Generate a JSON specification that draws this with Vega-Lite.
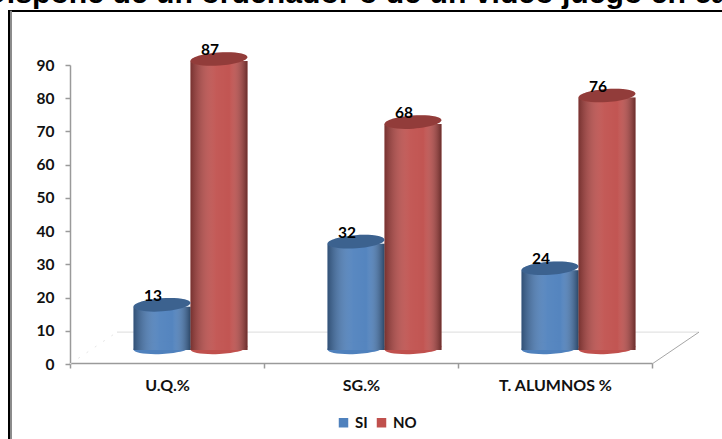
{
  "$schema": "https://vega.github.io/schema/vega-lite/v6.json",
  "width": 716,
  "height": 431,
  "autosize": "none",
  "padding": {"left": 9, "top": 11, "right": 0, "bottom": 0},
  "background": "#ffffff",
  "title": {
    "text": "Dispone de un ordenador o de un video juego en casa",
    "anchor": "start",
    "frame": "group",
    "dx": -24,
    "offset": 0.5,
    "font": "Liberation Sans",
    "fontSize": 30.2,
    "fontWeight": "bold",
    "color": "#000000"
  },
  "config": {
    "view": {"stroke": "#000000", "strokeWidth": 2},
    "font": "Lato"
  },
  "datasets": {
    "encuesta": [
      {"grupo": "U.Q.%", "serie": "SI", "valor": 13},
      {"grupo": "U.Q.%", "serie": "NO", "valor": 87},
      {"grupo": "SG.%", "serie": "SI", "valor": 32},
      {"grupo": "SG.%", "serie": "NO", "valor": 68},
      {"grupo": "T. ALUMNOS %", "serie": "SI", "valor": 24},
      {"grupo": "T. ALUMNOS %", "serie": "NO", "valor": 76}
    ],
    "suelo": [
      {"borde": "fondo", "x0": 47, "x1": 629, "y0": 9.6, "y1": 9.6},
      {"borde": "derecho", "x0": 582, "x1": 629, "y0": 0, "y1": 9.6},
      {"borde": "izquierdo", "x0": 0, "x1": 47, "y0": 0, "y1": 9.6},
      {"borde": "marco", "x0": -59, "x1": -59, "y0": -26, "y1": 106.3}
    ]
  },
  "resolve": {"scale": {"x": "independent"}, "axis": {"x": "independent"}},
  "layer": [
    {
      "description": "Suelo en perspectiva y franja gris del marco",
      "data": {"name": "suelo"},
      "encoding": {
        "x": {"field": "x0", "type": "quantitative", "axis": null, "scale": {"domain": [0, 582], "range": [61, 643], "nice": false, "zero": false}},
        "x2": {"field": "x1"},
        "y": {
          "field": "y0",
          "type": "quantitative",
          "scale": {"domain": [0, 90], "range": [353, 54], "nice": false},
          "axis": {
            "title": null,
            "offset": -61,
            "values": [0, 10, 20, 30, 40, 50, 60, 70, 80, 90],
            "labelFont": "Lato",
            "labelFontSize": 15.5,
            "labelFontWeight": "bold",
            "labelColor": "#111111",
            "labelPadding": 11,
            "tickSize": 5,
            "tickWidth": 1.5,
            "tickColor": "#9a9a9a",
            "domainColor": "#9a9a9a",
            "domainWidth": 1.5,
            "grid": false
          }
        },
        "y2": {"field": "y1"}
      },
      "layer": [
        {
          "transform": [{"filter": "datum.borde === 'fondo'"}],
          "mark": {"type": "rule", "stroke": "#dcdcdc", "strokeWidth": 1}
        },
        {
          "transform": [{"filter": "datum.borde === 'derecho'"}],
          "mark": {"type": "rule", "stroke": "#a6a6a6", "strokeWidth": 1}
        },
        {
          "transform": [{"filter": "datum.borde === 'izquierdo'"}],
          "mark": {"type": "rule", "stroke": "#e6e6e6", "strokeWidth": 1, "strokeDash": [2, 8]}
        },
        {
          "transform": [{"filter": "datum.borde === 'marco'"}],
          "mark": {"type": "rule", "stroke": "#8c8c8c", "strokeWidth": 2}
        }
      ]
    },
    {
      "description": "Eje de categorias con marcas en los limites de cada banda",
      "data": {"name": "encuesta"},
      "mark": {"type": "bar", "opacity": 0},
      "encoding": {
        "x": {
          "field": "grupo",
          "type": "nominal",
          "sort": ["U.Q.%", "SG.%", "T. ALUMNOS %"],
          "scale": {"range": [61, 643], "paddingInner": 0, "paddingOuter": 0},
          "axis": {
            "title": null,
            "offset": -79,
            "tickBand": "extent",
            "labelAngle": 0,
            "labelFont": "Lato",
            "labelFontSize": 16,
            "labelFontWeight": "bold",
            "labelColor": "#111111",
            "labelPadding": 9,
            "tickSize": 5,
            "tickWidth": 1.5,
            "tickColor": "#9a9a9a",
            "domainColor": "#9a9a9a",
            "domainWidth": 1.5,
            "grid": false
          }
        },
        "y": {"field": "valor", "type": "quantitative"}
      }
    },
    {
      "description": "Cilindros: cuerpo, base y tapa de cada serie, desplazados sobre el suelo",
      "data": {"name": "encuesta"},
      "encoding": {
        "x": {
          "field": "grupo",
          "type": "nominal",
          "sort": ["U.Q.%", "SG.%", "T. ALUMNOS %"],
          "scale": {"range": [84.5, 666.5], "paddingInner": 0, "paddingOuter": 0},
          "axis": null
        },
        "xOffset": {
          "field": "serie",
          "type": "nominal",
          "sort": ["SI", "NO"],
          "scale": {"paddingInner": 0, "paddingOuter": 0.702}
        },
        "y": {"field": "valor", "type": "quantitative"}
      },
      "layer": [
        {
          "mark": {"type": "bar", "yOffset": -14, "y2Offset": -16},
          "encoding": {
            "color": {
              "field": "serie",
              "type": "nominal",
              "sort": ["SI", "NO"],
              "scale": {"domain": ["SI", "NO"], "range": ["#4f81bd", "#c0504d"]},
              "legend": {
                "title": null,
                "orient": "none",
                "legendX": 327,
                "legendY": 404,
                "direction": "horizontal",
                "symbolType": "square",
                "symbolSize": 90,
                "symbolStrokeWidth": 0,
                "symbolOpacity": 1,
                "labelFont": "Lato",
                "labelFontSize": 15,
                "labelFontWeight": "bold",
                "labelColor": "#111111",
                "labelOffset": 4,
                "columnPadding": 6
              }
            }
          }
        },
        {
          "mark": {
            "type": "point",
            "shape": "M-1,0A1,0.21 0 1 1 1,0A1,0.21 0 1 1 -1,0Z",
            "filled": true,
            "opacity": 1,
            "size": 3249,
            "yOffset": -16,
            "angle": -3
          },
          "encoding": {
            "y": {"datum": 0},
            "color": {"field": "serie", "type": "nominal"}
          }
        },
        {
          "mark": {
            "type": "bar",
            "yOffset": -14,
            "y2Offset": -16,
            "color": {
              "gradient": "linear",
              "x1": 0, "y1": 0, "x2": 1, "y2": 0,
              "stops": [
                {"offset": 0, "color": "rgba(0,0,0,0.38)"},
                {"offset": 0.45, "color": "rgba(255,255,255,0.06)"},
                {"offset": 0.68, "color": "rgba(255,255,255,0.03)"},
                {"offset": 1, "color": "rgba(0,0,0,0.45)"}
              ]
            }
          }
        },
        {
          "mark": {
            "type": "point",
            "shape": "M-1,0A1,0.23 0 1 1 1,0A1,0.23 0 1 1 -1,0Z",
            "filled": true,
            "opacity": 1,
            "size": 3249,
            "yOffset": -16,
            "angle": -4
          },
          "encoding": {"color": {"field": "serie", "type": "nominal"}}
        },
        {
          "mark": {
            "type": "point",
            "shape": "M-1,0A1,0.23 0 1 1 1,0A1,0.23 0 1 1 -1,0Z",
            "filled": true,
            "color": "#000000",
            "opacity": 0.24,
            "size": 3249,
            "yOffset": -16,
            "angle": -4
          }
        },
        {
          "mark": {
            "type": "text",
            "dx": -9,
            "dy": -25,
            "font": "Lato",
            "fontSize": 15.5,
            "fontWeight": "bold",
            "color": "#000000"
          },
          "encoding": {"text": {"field": "valor", "type": "quantitative"}}
        }
      ]
    }
  ]
}
